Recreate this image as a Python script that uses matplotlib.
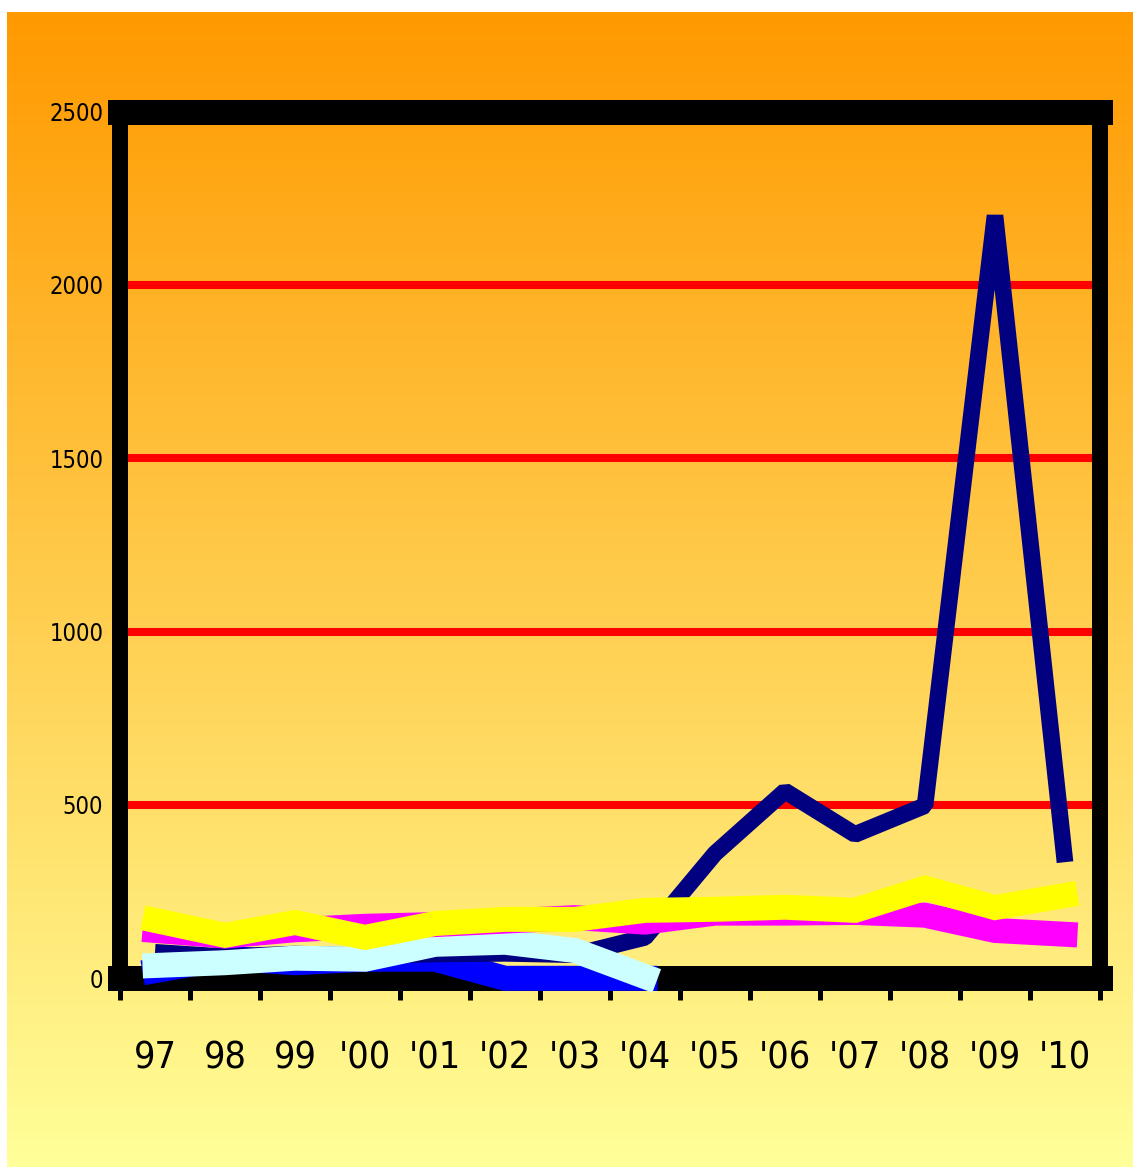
import matplotlib
matplotlib.use('Agg')
import matplotlib.pyplot as plt
import numpy as np
from matplotlib.colors import LinearSegmentedColormap

# Données
years = ['97', '98', '99', "'00", "'01", "'02", "'03", "'04",
         "'05", "'06", "'07", "'08", "'09", "'10"]
navy_vals = [75, 62, 70, 65, 70, 72, 68, 118, 360, 540, 415, 498, 2200, 335]
magenta_vals = [138, 122, 140, 150, 155, 165, 175, 162, 188, 188, 190, 182, 138, 127]
yellow_vals = [167, 124, 161, 118, 158, 170, 170, 196, 199, 205, 196, 260, 204, 239]
cyan_vals = [37, 45, 58, 55, 98, 104, 80, 5]
blue_vals = [22, 58, 45, 55, 55, 0, 0, 0]
y_ticks = [0, 500, 1000, 1500, 2000, 2500]

plt.rcParams['font.family'] = ['DejaVu Sans']
plt.rcParams['font.stretch'] = 'condensed'

W, H = 1133, 1167
fig = plt.figure(figsize=(W / 100, H / 100), dpi=100)
fig.patch.set_facecolor('white')

# Fond en dégradé
bg = fig.add_axes([7 / W, 0, 1 - 7 / W, (H - 12) / H])
cmap = LinearSegmentedColormap.from_list('bg', ['#FFFF99', '#FF9900'])
grad = np.linspace(0, 1, 256).reshape(-1, 1)
bg.imshow(grad, aspect='auto', cmap=cmap, origin='lower', extent=[0, 1, 0, 1])
bg.axis('off')

# Zone du graphique
ax = fig.add_axes([120 / W, (H - 978.3) / H, 980 / W, (978.3 - 111.6) / H])
ax.set_facecolor('none')
x = np.arange(len(years))

ax.plot(x[:len(blue_vals)], blue_vals, color='#0000FF', lw=18, solid_joinstyle='miter',
        solid_capstyle='projecting', clip_on=False, zorder=5)
ax.plot(x, navy_vals, color='#000080', lw=12, solid_joinstyle='bevel',
        solid_capstyle='butt', clip_on=False, zorder=6)
ax.plot(x[:len(cyan_vals)], cyan_vals, color='#CCFFFF', lw=18, solid_joinstyle='miter',
        solid_capstyle='projecting', clip_on=False, zorder=7)
ax.plot(x, magenta_vals, color='#FF00FF', lw=18, solid_joinstyle='miter',
        solid_capstyle='projecting', clip_on=False, zorder=8)
ax.plot(x, yellow_vals, color='#FFFF00', lw=18, solid_joinstyle='miter',
        solid_capstyle='projecting', clip_on=False, zorder=9)

ax.set_xlim(-0.5, len(years) - 0.5)
ax.set_ylim(0, 2500)

# Quadrillage rouge
ax.set_yticks(y_ticks)
ax.yaxis.grid(True, color='#FF0000', lw=5.8, zorder=1)
ax.set_axisbelow(True)
ax.tick_params(axis='y', length=0, pad=12, labelsize=17)

# Graduations entre les catégories, étiquettes au centre
ax.set_xticks(np.arange(-0.5, len(years)))
ax.set_xticklabels([])
ax.set_xticks(x, minor=True)
ax.set_xticklabels(years, minor=True)
ax.tick_params(axis='x', which='major', length=16, width=3.6, color='black')
ax.tick_params(axis='x', which='minor', length=0, pad=45, labelsize=27)

# Cadre noir épais
for side, lw in [('top', 18), ('bottom', 18), ('left', 11.5), ('right', 11.5)]:
    ax.spines[side].set_linewidth(lw)
    ax.spines[side].set_color('black')
    ax.spines[side].set_capstyle('projecting')
    ax.spines[side].set_zorder(4)

plt.savefig('out.png', dpi=100)
plt.close()
